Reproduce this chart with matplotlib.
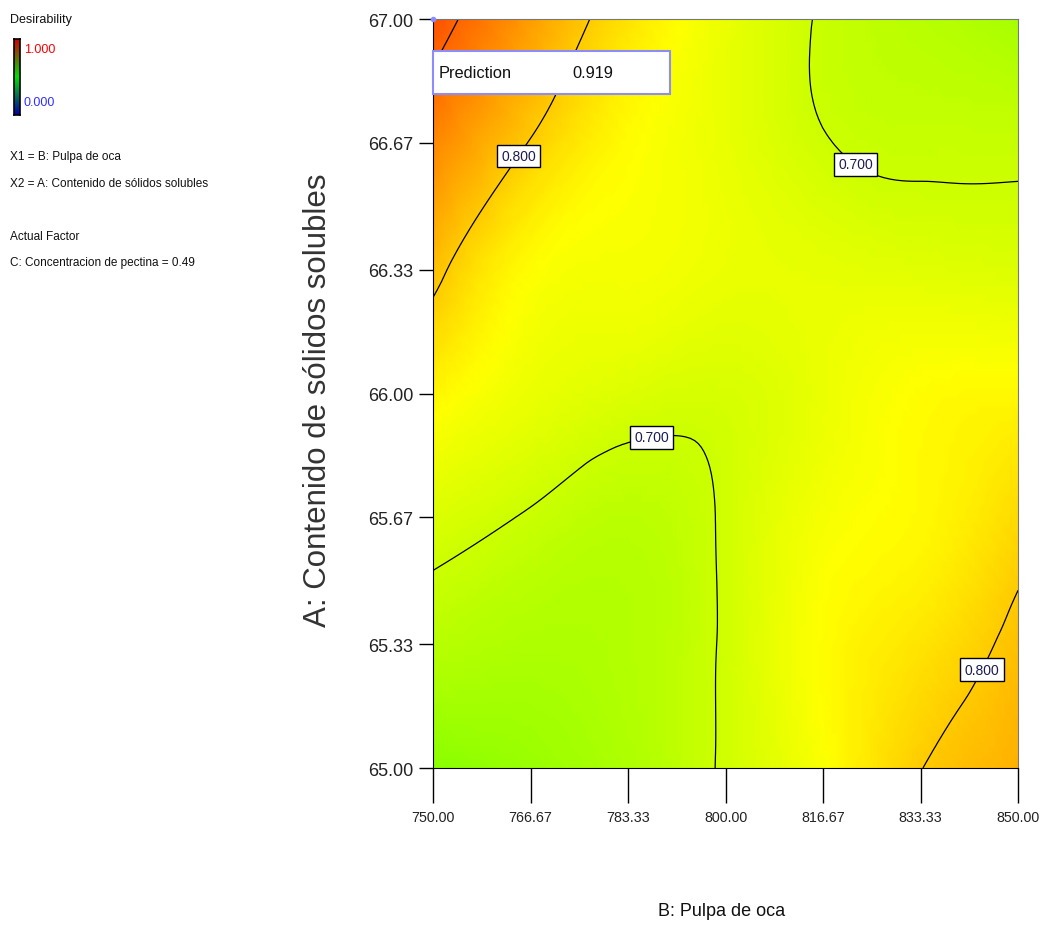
import numpy as np
import matplotlib
matplotlib.use('Agg')
import matplotlib.pyplot as plt
import matplotlib.tri as mtri
from matplotlib.colors import ListedColormap, LinearSegmentedColormap, hsv_to_rgb
from matplotlib.patches import Rectangle

# ejes del diseño
pulpa = [750.00, 766.67, 783.33, 800.00, 816.67, 833.33, 850.00]
solidos = [65.00, 65.33, 65.67, 66.00, 66.33, 66.67, 67.00]

# deseabilidad, una fila por nivel de solidos
d_6500 = [0.633, 0.650, 0.670, 0.704, 0.745, 0.799, 0.825]
d_6533 = [0.680, 0.670, 0.675, 0.704, 0.750, 0.775, 0.810]
d_6567 = [0.715, 0.697, 0.683, 0.704, 0.740, 0.755, 0.785]
d_6600 = [0.758, 0.730, 0.715, 0.710, 0.730, 0.750, 0.755]
d_6633 = [0.812, 0.750, 0.740, 0.730, 0.725, 0.720, 0.716]
d_6667 = [0.867, 0.798, 0.752, 0.728, 0.702, 0.694, 0.694]
d_6700 = [0.919, 0.845, 0.776, 0.730, 0.697, 0.680, 0.662]

niveles = [0.700, 0.800, 0.900]
pos_etiquetas = [(765.0, 66.63), (823.0, 66.63), (787.6, 65.86), (840.4, 65.29)]
prediccion = 0.919

plt.rcParams['font.family'] = ['Liberation Sans', 'DejaVu Sans']

D = np.array([d_6500, d_6533, d_6567, d_6600, d_6633, d_6667, d_6700])

# mapa de colores estilo Design-Expert: azul (0) -> rojo (1) por tono
h = np.linspace(240, 0, 256) / 360.0
hsv = np.stack([h, np.ones_like(h), np.ones_like(h)], axis=1)
cmap = ListedColormap(hsv_to_rgb(hsv))

fig = plt.figure(figsize=(10.43, 9.29), dpi=100)
ax = fig.add_axes([0.4152, 0.1722, 0.5609, 0.8062])

# triangulacion en el espacio de indices, refinada por matplotlib
iu, iv = np.meshgrid(np.arange(len(pulpa)), np.arange(len(solidos)))
tri = mtri.Triangulation(iu.ravel().astype(float), iv.ravel().astype(float))
refiner = mtri.UniformTriRefiner(tri)
tri_f, z_f = refiner.refine_field(D.ravel(), subdiv=4)
xf = np.interp(tri_f.x, np.arange(len(pulpa)), pulpa)
yf = np.interp(tri_f.y, np.arange(len(solidos)), solidos)
tri_d = mtri.Triangulation(xf, yf, tri_f.triangles)

ax.tripcolor(tri_d, z_f, shading='gouraud', cmap=cmap, vmin=0, vmax=1)
cs = ax.tricontour(tri_d, z_f, levels=niveles, colors='black', linewidths=0.9)
labs = ax.clabel(cs, levels=[0.7, 0.8], manual=pos_etiquetas, inline=False,
                 fmt='%.3f', fontsize=10, colors='#1c1c50')
for t in labs:
    t.set_rotation(0)
    t.set_bbox(dict(boxstyle='square,pad=0.32', fc='white', ec='black', lw=1))
    t.set_zorder(6)

ax.set_xlim(750, 850)
ax.set_ylim(65, 67)
ax.set_xticks(pulpa)
ax.set_xticklabels(['%.2f' % v for v in pulpa], fontsize=10.3)
ax.set_yticks(solidos)
ax.set_yticklabels(['%.2f' % v for v in solidos], fontsize=13)
ax.tick_params(axis='x', direction='out', length=25, width=1, pad=5, colors='black', labelcolor='#222222')
ax.tick_params(axis='y', direction='out', length=10, width=1, pad=4, colors='black', labelcolor='#222222')
for s in ['left', 'bottom']:
    ax.spines[s].set_color('black')
for s in ['top', 'right']:
    ax.spines[s].set_color('#777777')

# caja de prediccion
ax.add_patch(Rectangle((0, 0.900), 0.405, 0.057, transform=ax.transAxes,
                       fc='white', ec='#8c8cff', lw=1.5, zorder=7, clip_on=False))
ax.text(0.009, 0.9286, 'Prediction', transform=ax.transAxes,
        fontsize=11.8, va='center', ha='left', zorder=8, color='#111111')
ax.text(0.238, 0.9286, '%.3f' % prediccion, transform=ax.transAxes,
        fontsize=11.8, va='center', ha='left', zorder=8, color='#111111')
ax.plot(pulpa[0], solidos[-1], 'o', ms=3, color='#8c8cff', clip_on=False, zorder=9)

fig.text(0.692, 0.0183, 'B: Pulpa de oca', fontsize=13,
         ha='center', va='center', color='#111111')
fig.text(0.305, 0.5694, 'A: Contenido de sólidos solubles', fontsize=22.5,
         rotation=90, ha='center', va='center', color='#333333')

# leyenda de la izquierda
fig.text(0.010, 0.979, 'Desirability', fontsize=9, va='center', color='#111111')
cax = fig.add_axes([14 / 1043, 1 - 116 / 929, 6 / 1043, 76 / 929])
leg_cmap = LinearSegmentedColormap.from_list('leg', ['#0000b0', '#00e000', '#d00000'])
cax.imshow(np.linspace(1, 0, 100).reshape(-1, 1), aspect='auto', cmap=leg_cmap)
cax.set_xticks([])
cax.set_yticks([])
for s in cax.spines.values():
    s.set_linewidth(1.2)
fig.text(0.023, 1 - 50 / 929, '1.000', fontsize=9, va='center', color='#ff0000')
fig.text(0.023, 1 - 103 / 929, '0.000', fontsize=9, va='center', color='#3030ff')
fig.text(0.010, 1 - 157 / 929, 'X1 = B: Pulpa de oca', fontsize=8.5, va='center', color='#111111')
fig.text(0.010, 1 - 184 / 929, 'X2 = A: Contenido de sólidos solubles', fontsize=8.5,
         va='center', color='#111111')
fig.text(0.010, 1 - 237 / 929, 'Actual Factor', fontsize=8.5, va='center', color='#111111')
fig.text(0.010, 1 - 263 / 929, 'C: Concentracion de pectina = 0.49', fontsize=8.5,
         va='center', color='#111111')

fig.savefig('out.png', dpi=100)
